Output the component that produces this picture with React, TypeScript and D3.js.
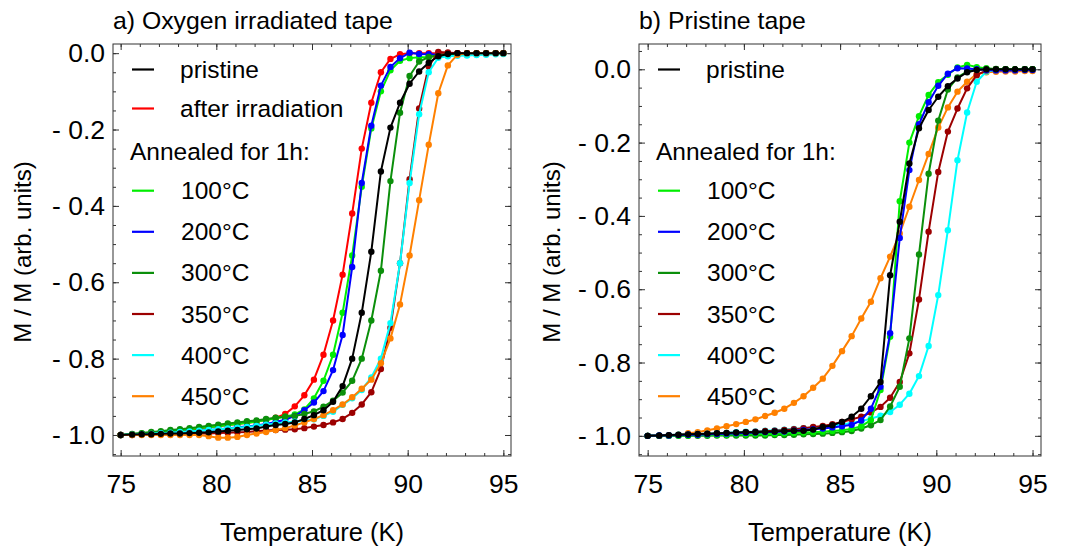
import React, { useEffect, useRef } from 'react';
import * as d3 from 'd3';

// measurement temperatures (K), same grid for every curve
const temps = [
  75.0, 75.6, 76.1, 76.6, 77.1, 77.6, 78.1, 78.6, 79.1, 79.6,
  80.1, 80.6, 81.1, 81.6, 82.1, 82.6, 83.1, 83.6, 84.1, 84.6,
  85.1, 85.6, 86.1, 86.6, 87.1, 87.6, 88.1, 88.6, 89.1, 89.6,
  90.1, 90.6, 91.1, 91.6, 92.1, 92.6, 93.1, 93.6, 94.1, 94.6,
  95.0,
];

// a) oxygen irradiated tape
const aPristine = [
  -1.000, -0.999, -0.998, -0.998, -0.997, -0.996, -0.996, -0.995, -0.994, -0.993,
  -0.991, -0.989, -0.987, -0.985, -0.983, -0.978, -0.974, -0.971, -0.967, -0.958,
  -0.948, -0.935, -0.913, -0.872, -0.800, -0.680, -0.520, -0.310, -0.195, -0.130,
  -0.080, -0.048, -0.025, -0.008, -0.002, 0, 0, 0, 0, 0,
  0,
];
const aIrradiated = [
  -1.000, -0.999, -0.997, -0.995, -0.993, -0.991, -0.988, -0.986, -0.983, -0.980,
  -0.977, -0.974, -0.971, -0.968, -0.965, -0.961, -0.955, -0.945, -0.925, -0.896,
  -0.855, -0.790, -0.700, -0.580, -0.420, -0.250, -0.130, -0.050, -0.015, -0.003,
  0, 0, 0, 0, 0, 0, 0, 0, 0, 0,
  0,
];
const a100 = [
  -1.000, -0.998, -0.996, -0.994, -0.992, -0.990, -0.987, -0.985, -0.982, -0.980,
  -0.977, -0.974, -0.971, -0.968, -0.965, -0.961, -0.956, -0.952, -0.946, -0.933,
  -0.904, -0.858, -0.790, -0.680, -0.530, -0.350, -0.197, -0.100, -0.045, -0.020,
  -0.013, -0.011, -0.010, -0.008, -0.006, -0.004, -0.003, -0.002, -0.001, 0,
  0,
];
const a200 = [
  -1.000, -0.999, -0.998, -0.997, -0.996, -0.995, -0.993, -0.991, -0.989, -0.987,
  -0.985, -0.983, -0.980, -0.978, -0.975, -0.971, -0.966, -0.960, -0.950, -0.935,
  -0.915, -0.885, -0.830, -0.738, -0.560, -0.340, -0.190, -0.085, -0.036, -0.013,
  0.001, -0.002, -0.003, -0.004, -0.005, -0.005, -0.004, -0.003, -0.002, -0.001,
  0,
];
const a300 = [
  -1.000, -0.997, -0.995, -0.992, -0.990, -0.987, -0.985, -0.982, -0.979, -0.976,
  -0.973, -0.970, -0.967, -0.964, -0.962, -0.958, -0.955, -0.952, -0.950, -0.945,
  -0.938, -0.926, -0.910, -0.889, -0.858, -0.800, -0.700, -0.570, -0.335, -0.156,
  -0.060, -0.022, -0.010, -0.005, -0.003, -0.002, -0.001, 0, 0, 0,
  0,
];
const a350 = [
  -1.000, -1.000, -0.999, -0.999, -0.998, -0.998, -0.997, -0.997, -0.996, -0.996,
  -0.995, -0.994, -0.993, -0.992, -0.990, -0.988, -0.987, -0.986, -0.985, -0.982,
  -0.978, -0.974, -0.967, -0.958, -0.942, -0.920, -0.888, -0.827, -0.719, -0.550,
  -0.330, -0.145, -0.035, 0.003, 0.002, 0, 0, 0, 0, 0,
  0,
];
const a400 = [
  -1.000, -0.999, -0.998, -0.997, -0.995, -0.994, -0.992, -0.991, -0.989, -0.987,
  -0.985, -0.983, -0.981, -0.979, -0.976, -0.973, -0.970, -0.967, -0.965, -0.963,
  -0.959, -0.950, -0.939, -0.921, -0.904, -0.882, -0.849, -0.800, -0.707, -0.550,
  -0.340, -0.160, -0.050, -0.012, -0.008, -0.007, -0.006, -0.005, -0.004, -0.003,
  -0.002,
];
const a450 = [
  -1.000, -1.000, -1.000, -1.000, -1.000, -1.000, -1.000, -1.000, -1.000, -1.003,
  -1.007, -1.007, -1.005, -1.000, -0.996, -0.992, -0.987, -0.982, -0.975, -0.967,
  -0.958, -0.948, -0.935, -0.920, -0.901, -0.879, -0.855, -0.812, -0.747, -0.658,
  -0.530, -0.385, -0.240, -0.105, -0.032, -0.004, 0, 0, 0, 0,
  0,
];

// b) pristine tape
const bPristine = [
  -1.000, -0.999, -0.998, -0.997, -0.996, -0.995, -0.994, -0.993, -0.992, -0.991,
  -0.990, -0.990, -0.989, -0.988, -0.987, -0.986, -0.986, -0.983, -0.976, -0.971,
  -0.962, -0.948, -0.926, -0.892, -0.853, -0.562, -0.416, -0.257, -0.161, -0.111,
  -0.075, -0.046, -0.025, -0.008, -0.002, 0, 0, 0, 0, 0,
  0,
];
const b100 = [
  -1.000, -1.000, -1.000, -0.999, -0.999, -0.998, -0.998, -0.997, -0.997, -0.996,
  -0.996, -0.995, -0.995, -0.994, -0.993, -0.992, -0.991, -0.990, -0.989, -0.987,
  -0.985, -0.981, -0.974, -0.957, -0.875, -0.730, -0.360, -0.200, -0.128, -0.070,
  -0.035, -0.015, 0.005, 0.012, 0.006, 0.002, 0, 0, 0, 0,
  0,
];
const b200 = [
  -1.000, -0.999, -0.999, -0.998, -0.997, -0.997, -0.996, -0.995, -0.994, -0.993,
  -0.992, -0.991, -0.990, -0.989, -0.988, -0.986, -0.984, -0.982, -0.980, -0.977,
  -0.974, -0.970, -0.958, -0.926, -0.866, -0.720, -0.460, -0.275, -0.150, -0.090,
  -0.045, -0.012, 0.003, 0.002, 0, -0.002, -0.003, -0.003, -0.003, -0.002,
  -0.002,
];
const b300 = [
  -1.000, -1.000, -1.000, -1.000, -1.000, -1.000, -1.000, -0.999, -0.999, -0.999,
  -0.999, -0.999, -0.999, -0.998, -0.998, -0.997, -0.996, -0.995, -0.994, -0.992,
  -0.990, -0.987, -0.980, -0.971, -0.957, -0.920, -0.866, -0.734, -0.505, -0.285,
  -0.140, -0.055, -0.022, -0.006, 0, 0.002, 0.001, 0, 0, 0,
  0,
];
const b350 = [
  -1.000, -1.000, -0.999, -0.998, -0.997, -0.996, -0.995, -0.994, -0.993, -0.992,
  -0.990, -0.989, -0.987, -0.986, -0.984, -0.982, -0.979, -0.976, -0.973, -0.968,
  -0.962, -0.955, -0.948, -0.936, -0.921, -0.896, -0.853, -0.775, -0.628, -0.443,
  -0.280, -0.170, -0.107, -0.052, -0.016, -0.003, 0, 0, 0, 0,
  0,
];
const b400 = [
  -1.000, -0.999, -0.998, -0.997, -0.996, -0.995, -0.994, -0.993, -0.992, -0.990,
  -0.989, -0.988, -0.986, -0.985, -0.983, -0.981, -0.979, -0.977, -0.975, -0.972,
  -0.969, -0.965, -0.960, -0.953, -0.945, -0.935, -0.915, -0.885, -0.837, -0.755,
  -0.616, -0.439, -0.248, -0.118, -0.034, -0.006, -0.002, 0, 0, 0,
  0,
];
const b450 = [
  -1.000, -1.000, -0.999, -0.997, -0.993, -0.990, -0.985, -0.980, -0.974, -0.968,
  -0.962, -0.955, -0.946, -0.937, -0.926, -0.910, -0.892, -0.869, -0.844, -0.809,
  -0.769, -0.728, -0.680, -0.634, -0.570, -0.511, -0.448, -0.375, -0.302, -0.231,
  -0.159, -0.104, -0.061, -0.034, -0.013, -0.008, -0.007, -0.006, -0.006, -0.005,
  -0.005,
];

const annealLabels = ['100°C', '200°C', '300°C', '350°C', '400°C', '450°C'];
const xTicks = [75, 80, 85, 90, 95];
const yTicks = [0, -0.2, -0.4, -0.6, -0.8, -1.0];

const COLORS = {
  pristine: '#000000',
  irradiated: '#ff0000',
  c100: '#00ee00',
  c200: '#0000ff',
  c300: '#0b8f0b',
  c350: '#9c0000',
  c400: '#00ffff',
  c450: '#ff8000',
};
const annealColors = [COLORS.c100, COLORS.c200, COLORS.c300, COLORS.c350, COLORS.c400, COLORS.c450];

const FONT = 'Liberation Sans, Arial, sans-serif';
const W = 1066;
const H = 552;
const TOP = 44;
const BOTTOM = 456;

const panels = [
  {
    title: 'a) Oxygen irradiated tape',
    left: 113,
    right: 511,
    xDomain: [74.6, 95.4],
    yDomain: [-1.055, 0.024],
    yLabelX: 23,
    // drawing order: pristine on top
    series: [
      { v: aIrradiated, c: COLORS.irradiated },
      { v: a100, c: COLORS.c100 },
      { v: a200, c: COLORS.c200 },
      { v: a300, c: COLORS.c300 },
      { v: a350, c: COLORS.c350 },
      { v: a400, c: COLORS.c400 },
      { v: a450, c: COLORS.c450 },
      { v: aPristine, c: COLORS.pristine },
    ],
    top: [
      { label: 'pristine', c: COLORS.pristine },
      { label: 'after irradiation', c: COLORS.irradiated },
    ],
  },
  {
    title: 'b) Pristine tape',
    left: 639,
    right: 1041,
    xDomain: [74.55, 95.44],
    yDomain: [-1.055, 0.069],
    yLabelX: 552,
    series: [
      { v: b450, c: COLORS.c450 },
      { v: b400, c: COLORS.c400 },
      { v: b350, c: COLORS.c350 },
      { v: b300, c: COLORS.c300 },
      { v: b100, c: COLORS.c100 },
      { v: b200, c: COLORS.c200 },
      { v: bPristine, c: COLORS.pristine },
    ],
    top: [{ label: 'pristine', c: COLORS.pristine }],
  },
];

function App() {
  const ref = useRef<SVGSVGElement>(null);

  useEffect(() => {
    const svg = d3.select(ref.current);
    svg.selectAll('*').remove();

    const yFmt = (d: number) => (d === 0 ? '0.0' : '- ' + Math.abs(d).toFixed(1));

    panels.forEach((p) => {
      const g = svg.append('g');
      const x = d3.scaleLinear().domain(p.xDomain).range([p.left, p.right]);
      const y = d3.scaleLinear().domain(p.yDomain).range([BOTTOM, TOP]);
      const yMinor = d3.range(-1.05, 0.08, 0.05).filter((d) => d >= p.yDomain[0] && d <= p.yDomain[1]);
      const xMinor = d3.range(75, 96, 1);

      // axes, ticks pointing inward on all four sides
      const axes: [any, string, boolean][] = [
        [d3.axisBottom(x).tickValues(xTicks).tickSize(-6).tickPadding(18).tickFormat(d3.format('d') as any), `translate(0,${BOTTOM})`, true],
        [d3.axisBottom(x).tickValues(xMinor).tickSize(-3).tickFormat(() => ''), `translate(0,${BOTTOM})`, false],
        [d3.axisTop(x).tickValues(xTicks).tickSize(-6).tickFormat(() => ''), `translate(0,${TOP})`, false],
        [d3.axisTop(x).tickValues(xMinor).tickSize(-3).tickFormat(() => ''), `translate(0,${TOP})`, false],
        [d3.axisLeft(y).tickValues(yTicks).tickSize(-6).tickPadding(8).tickFormat(yFmt as any), `translate(${p.left},0)`, true],
        [d3.axisLeft(y).tickValues(yMinor).tickSize(-3).tickFormat(() => ''), `translate(${p.left},0)`, false],
        [d3.axisRight(y).tickValues(yTicks).tickSize(-6).tickFormat(() => ''), `translate(${p.right},0)`, false],
        [d3.axisRight(y).tickValues(yMinor).tickSize(-3).tickFormat(() => ''), `translate(${p.right},0)`, false],
      ];
      axes.forEach(([axis, tr, labels]) => {
        const a = g.append('g').attr('transform', tr).call(axis);
        a.select('.domain').remove();
        a.selectAll('line').attr('stroke', '#333').attr('stroke-width', 1);
        if (labels) {
          a.selectAll('text').attr('font-family', FONT).attr('font-size', 26.5).attr('fill', '#000');
        }
      });

      // curves
      const line = d3.line<number>().x((_, i) => x(temps[i])).y((d) => y(d));
      p.series.forEach((s) => {
        g.append('path')
          .attr('d', line(s.v))
          .attr('fill', 'none')
          .attr('stroke', s.c)
          .attr('stroke-width', 2)
          .attr('stroke-linejoin', 'round');
        g.append('g')
          .selectAll('circle')
          .data(s.v)
          .join('circle')
          .attr('cx', (_, i) => x(temps[i]))
          .attr('cy', (d) => y(d))
          .attr('r', 3.2)
          .attr('fill', s.c);
      });

      // frame
      g.append('rect')
        .attr('x', p.left)
        .attr('y', TOP)
        .attr('width', p.right - p.left)
        .attr('height', BOTTOM - TOP)
        .attr('fill', 'none')
        .attr('stroke', '#333')
        .attr('stroke-width', 1);

      // legend
      const lx0 = p.left + 19;
      const lx1 = p.left + 41;
      const tx = p.left + 67;
      const legend = g.append('g').attr('font-family', FONT).attr('font-size', 24.5);
      p.top.forEach((item, i) => {
        const ly = 69.5 + i * 39;
        legend.append('line').attr('x1', lx0).attr('x2', lx1).attr('y1', ly).attr('y2', ly).attr('stroke', item.c).attr('stroke-width', 2.2);
        legend.append('text').attr('x', tx).attr('y', ly).attr('dy', '0.35em').text(item.label);
      });
      legend.append('text').attr('x', p.left + 17).attr('y', 151.5).attr('dy', '0.35em').text('Annealed for 1h:');
      annealLabels.forEach((lab, i) => {
        const ly = 190.7 + i * 41.1;
        legend.append('line').attr('x1', lx0).attr('x2', lx1).attr('y1', ly).attr('y2', ly).attr('stroke', annealColors[i]).attr('stroke-width', 2.2);
        legend.append('text').attr('x', tx + 1).attr('y', ly).attr('dy', '0.35em').text(lab);
      });

      // titles
      g.append('text')
        .attr('x', p.left)
        .attr('y', 29)
        .attr('font-family', FONT)
        .attr('font-size', 24.8)
        .text(p.title);

      g.append('text')
        .attr('x', (p.left + p.right) / 2)
        .attr('y', 541)
        .attr('text-anchor', 'middle')
        .attr('font-family', FONT)
        .attr('font-size', 25.5)
        .text('Temperature (K)');

      g.append('text')
        .attr('transform', `translate(${p.yLabelX},252) rotate(-90)`)
        .attr('text-anchor', 'middle')
        .attr('dy', '0.35em')
        .attr('font-family', FONT)
        .attr('font-size', 24)
        .text('M / M (arb. units)');
    });
  }, []);

  return (
    <svg
      ref={ref}
      width={W}
      height={H}
      style={{ position: 'absolute', left: 0, top: 0, background: '#fff' }}
    />
  );
}

export default App;
